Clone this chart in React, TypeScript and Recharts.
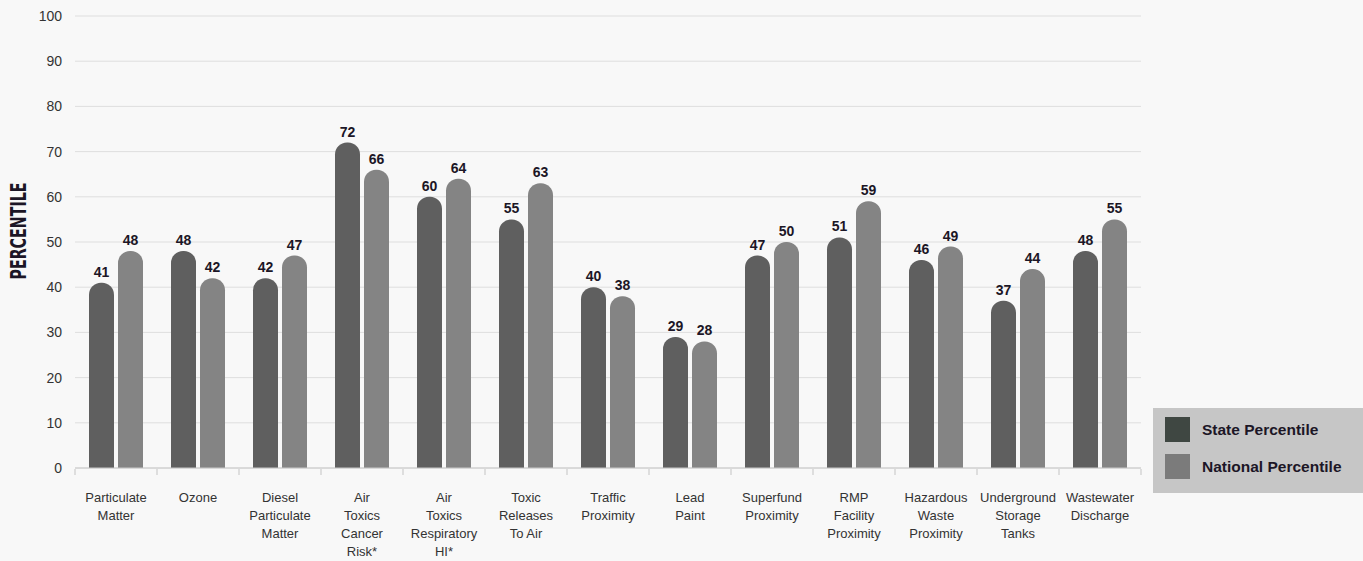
import { BarChart, Bar, XAxis, YAxis, CartesianGrid, LabelList } from 'recharts'

// indicator names, '\n' marks the line breaks used under each group
const categories = [
  'Particulate\nMatter',
  'Ozone',
  'Diesel\nParticulate\nMatter',
  'Air\nToxics\nCancer\nRisk*',
  'Air\nToxics\nRespiratory\nHI*',
  'Toxic\nReleases\nTo Air',
  'Traffic\nProximity',
  'Lead\nPaint',
  'Superfund\nProximity',
  'RMP\nFacility\nProximity',
  'Hazardous\nWaste\nProximity',
  'Underground\nStorage\nTanks',
  'Wastewater\nDischarge',
]
const statePct = [41, 48, 42, 72, 60, 55, 40, 29, 47, 51, 46, 37, 48]
const nationalPct = [48, 42, 47, 66, 64, 63, 38, 28, 50, 59, 49, 44, 55]
const yTicks = [0, 10, 20, 30, 40, 50, 60, 70, 80, 90, 100]
const seriesNames = ['State Percentile', 'National Percentile']

const data = categories.map((name, i) => ({ name, state: statePct[i], national: nationalPct[i] }))

const W = 1363
const H = 561
const PLOT_LEFT = 75
const PLOT_RIGHT = 1141
const HALF_BAND = (PLOT_RIGHT - PLOT_LEFT) / categories.length / 2

const STATE_COLOR = '#5f5f5f'
const NATIONAL_COLOR = '#848484'
const SWATCHES = ['#3f4742', '#7b7b7b']
const FONT = "'Liberation Sans', Arial, sans-serif"

function CategoryTick(props: any) {
  const { x, y, payload, index } = props
  const lines = String(payload.value).split('\n')
  const last = index === categories.length - 1
  return (
    <g>
      <line x1={x - HALF_BAND} x2={x - HALF_BAND} y1={y + 1} y2={y + 7} stroke="#c4c4c4" />
      {last && <line x1={x + HALF_BAND} x2={x + HALF_BAND} y1={y + 1} y2={y + 7} stroke="#c4c4c4" />}
      {lines.map((l, i) => (
        <text key={i} x={x} y={y + 34 + i * 18} textAnchor="middle" fontSize={13} fill="#333" fontFamily={FONT}>
          {l}
        </text>
      ))}
    </g>
  )
}

function AxisTitle(props: any) {
  const vb = props.viewBox
  const cy = vb.y + vb.height / 2 - 11
  return (
    <text
      x={26}
      y={cy}
      transform={`rotate(-90 26 ${cy})`}
      textAnchor="middle"
      fontSize={22}
      fontWeight="bold"
      fill="#1c1626"
      fontFamily="'Liberation Sans Narrow', 'DejaVu Sans Condensed', sans-serif"
      textLength={97}
      lengthAdjust="spacingAndGlyphs"
    >
      PERCENTILE
    </text>
  )
}

// legend box drawn in html on top of the chart, bottom right
function LegendBox() {
  return (
    <div
      style={{
        position: 'absolute',
        left: 1153,
        top: 408,
        width: 210,
        height: 85,
        background: '#c6c6c6',
        boxSizing: 'border-box',
        paddingTop: 9,
        paddingLeft: 12,
        fontFamily: FONT,
      }}
    >
      {seriesNames.map((n, i) => (
        <div key={n} style={{ display: 'flex', alignItems: 'center', height: 25, marginBottom: 12 }}>
          <span style={{ width: 25, height: 25, background: SWATCHES[i], display: 'inline-block' }} />
          <span style={{ marginLeft: 12, fontSize: 15.5, fontWeight: 'bold', color: '#1c1626' }}>{n}</span>
        </div>
      ))}
    </div>
  )
}

export default function App() {
  return (
    <div style={{ position: 'absolute', left: 0, top: 0, width: W, height: H, background: '#f8f8f8' }}>
      <BarChart
        width={W}
        height={H}
        data={data}
        margin={{ top: 16, right: W - PLOT_RIGHT, bottom: 3, left: 0 }}
        barCategoryGap={14}
        barGap={4}
      >
        <CartesianGrid vertical={false} stroke="#dedede" />
        <XAxis
          dataKey="name"
          interval={0}
          height={90}
          tickSize={0}
          tickMargin={0}
          tick={<CategoryTick />}
          axisLine={{ stroke: '#c8c8c8' }}
        />
        <YAxis
          width={PLOT_LEFT}
          domain={[0, 100]}
          ticks={yTicks}
          interval={0}
          tickLine={false}
          axisLine={false}
          tickMargin={7}
          tick={{ fontSize: 14, fill: '#333', fontFamily: FONT }}
          label={<AxisTitle />}
        />
        <Bar dataKey="state" name={seriesNames[0]} fill={STATE_COLOR} radius={[12, 12, 0, 0]} isAnimationActive={false}>
          <LabelList dataKey="state" position="top" offset={6} fontSize={14} fontWeight="bold" fill="#1c1626" fontFamily={FONT} />
        </Bar>
        <Bar dataKey="national" name={seriesNames[1]} fill={NATIONAL_COLOR} radius={[12, 12, 0, 0]} isAnimationActive={false}>
          <LabelList dataKey="national" position="top" offset={6} fontSize={14} fontWeight="bold" fill="#1c1626" fontFamily={FONT} />
        </Bar>
      </BarChart>
      <LegendBox />
    </div>
  )
}
